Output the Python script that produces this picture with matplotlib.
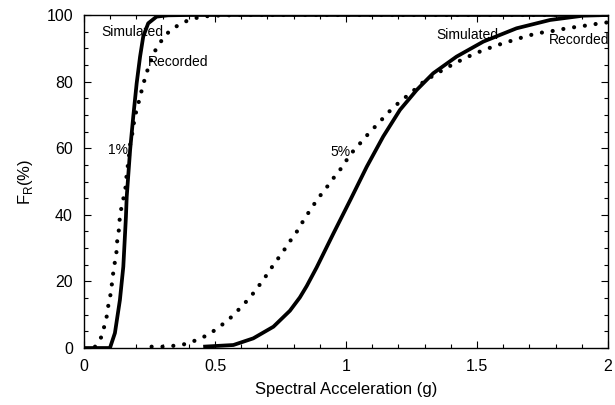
import matplotlib
matplotlib.use("Agg")
import matplotlib.pyplot as plt
from matplotlib.ticker import MultipleLocator

plt.rcParams['font.family'] = ['Liberation Sans', 'DejaVu Sans']

# 1% damping
sim1_x = [0.0, 0.099, 0.118, 0.137, 0.150, 0.160, 0.163, 0.176, 0.188, 0.201, 0.214, 0.226, 0.245, 0.277, 0.32, 0.40, 2.0]
sim1_y = [0.0, 0.0, 4.5, 14.4, 24.4, 39.4, 45.4, 59.5, 69.5, 79.5, 87.5, 93.5, 97.5, 99.5, 99.9, 100.0, 100.0]

rec1_x = [0.042, 0.067, 0.077, 0.087, 0.093, 0.102, 0.107, 0.112, 0.118, 0.125, 0.127, 0.134, 0.137,
          0.153, 0.160, 0.163, 0.169, 0.178, 0.188, 0.192, 0.203, 0.214, 0.224, 0.235, 0.249, 0.268,
          0.290, 0.324, 0.366, 0.407, 0.449, 0.494, 0.6, 0.8, 1.0, 1.5, 2.0]
rec1_y = [0.4, 3.4, 6.4, 9.6, 12.9, 16.4, 19.6, 22.9, 25.9, 29.4, 32.6, 35.9, 39.9,
          45.9, 48.9, 52.5, 55.7, 62.5, 65.5, 69.0, 72.0, 75.5, 78.5, 81.7, 85.0, 88.8,
          91.7, 95.0, 97.3, 98.7, 99.5, 99.8, 100.0, 100.0, 100.0, 100.0, 100.0]

# 5% damping
sim5_x = [0.455, 0.570, 0.646, 0.723, 0.786, 0.824, 0.850, 0.888, 0.952, 1.018, 1.079, 1.142, 1.206,
          1.270, 1.333, 1.422, 1.524, 1.651, 1.779, 1.906, 2.0]
sim5_y = [0.4, 0.9, 2.9, 6.4, 11.2, 15.2, 18.6, 24.2, 34.4, 44.7, 54.4, 63.5, 71.5,
          77.5, 82.5, 87.5, 92.0, 96.0, 98.5, 99.8, 100.0]

rec5_x = [0.258, 0.303, 0.347, 0.388, 0.430, 0.472, 0.513, 0.557, 0.595, 0.634, 0.665, 0.697, 0.725,
          0.757, 0.782, 0.812, 0.837, 0.863, 0.894, 0.924, 0.952, 0.986, 1.015, 1.051, 1.085, 1.126,
          1.165, 1.206, 1.251, 1.289, 1.331, 1.374, 1.416, 1.458, 1.501, 1.544, 1.588, 1.629, 1.670,
          1.715, 1.753, 1.798, 1.842, 1.887, 1.931, 1.969, 2.0]
rec5_y = [0.4, 0.4, 0.7, 1.2, 2.4, 3.9, 6.1, 8.9, 11.9, 15.2, 18.4, 21.9, 25.2,
          28.6, 31.6, 34.9, 38.2, 41.4, 45.0, 48.0, 51.0, 54.4, 58.0, 61.2, 64.3, 67.7,
          71.0, 74.0, 76.8, 79.5, 81.7, 83.7, 85.5, 87.2, 88.7, 90.0, 91.2, 92.2, 93.2,
          94.2, 94.8, 95.3, 96.0, 96.5, 97.0, 97.5, 97.8]

x_ticks = [0, 0.5, 1, 1.5, 2]
x_tick_labels = ['0', '0.5', '1', '1.5', '2']
y_ticks = [0, 20, 40, 60, 80, 100]
y_tick_labels = ['0', '20', '40', '60', '80', '100']

fig = plt.figure(figsize=(6.15, 4.05), dpi=100)
ax = fig.add_axes([0.1366, 0.1407, 0.852, 0.8223])

solid_kw = dict(color='black', lw=2.7, solid_capstyle='butt', solid_joinstyle='round')
dot_kw = dict(color='black', lw=3.0, linestyle=(0, (0.01, 2.6)), dash_capstyle='round')

ax.plot(sim1_x, sim1_y, **solid_kw)
ax.plot(rec1_x, rec1_y, **dot_kw)
ax.plot(sim5_x, sim5_y, **solid_kw)
ax.plot(rec5_x, rec5_y, **dot_kw)

ax.set_xlim(0, 2)
ax.set_ylim(0, 100)
ax.set_xticks(x_ticks)
ax.set_xticklabels(x_tick_labels)
ax.set_yticks(y_ticks)
ax.set_yticklabels(y_tick_labels)
ax.xaxis.set_minor_locator(MultipleLocator(0.1))
ax.yaxis.set_minor_locator(MultipleLocator(5))
ax.tick_params(which='both', direction='in', top=True, right=True, labelsize=11.5, width=0.8)
ax.tick_params(which='major', length=5, pad=8)
ax.tick_params(which='minor', length=3)
for s in ax.spines.values():
    s.set_linewidth(1.0)

ax.set_xlabel('Spectral Acceleration (g)', fontsize=12, labelpad=6)
ax.set_ylabel('F$_{\\mathregular{R}}$(%)', fontsize=12, labelpad=8)

tk = dict(fontsize=10, color='black')
ax.text(0.066, 95, 'Simulated', va='center', ha='left', **tk)
ax.text(0.245, 86, 'Recorded', va='center', ha='left', **tk)
ax.text(0.092, 59.5, '1%', va='center', ha='left', **tk)
ax.text(0.942, 59, '5%', va='center', ha='left', **tk)
ax.text(1.346, 94, 'Simulated', va='center', ha='left', **tk)
ax.text(1.775, 92.5, 'Recorded', va='center', ha='left', **tk)

fig.savefig('out.png', dpi=100)
